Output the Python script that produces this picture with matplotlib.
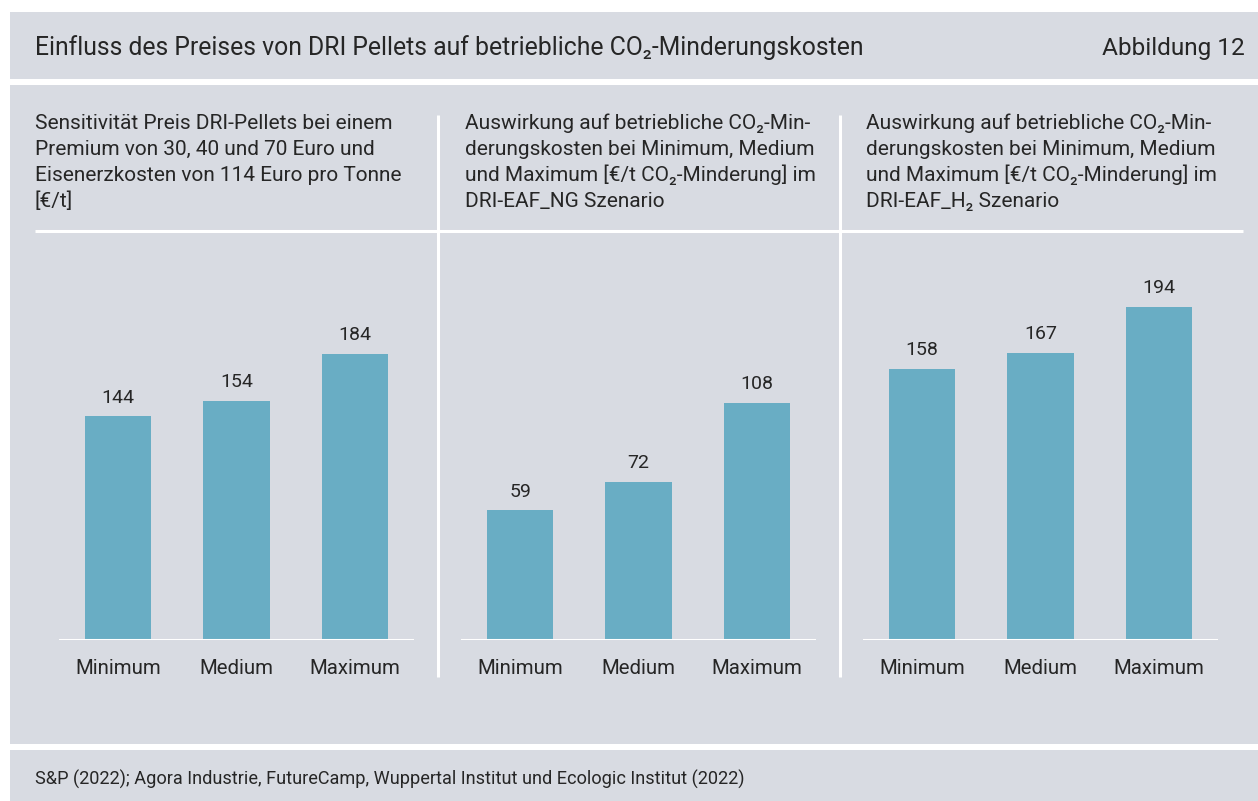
import matplotlib.pyplot as plt
from matplotlib.patches import Rectangle

plt.rcParams['font.family'] = ['Roboto', 'DejaVu Sans']

# --- Daten ---
categories = ["Minimum", "Medium", "Maximum"]
pellet_price = [144, 154, 184]          # €/t DRI-Pellets
cost_ng = [59, 72, 108]                 # €/t CO2-Minderung, DRI-EAF_NG
cost_h2 = [158, 167, 194]               # €/t CO2-Minderung, DRI-EAF_H2

title = "Einfluss des Preises von DRI Pellets auf betriebliche CO\u2082-Minderungskosten"
fig_label = "Abbildung 12"
subtitles = [
    ["Sensitivität Preis DRI-Pellets bei einem",
     "Premium von 30, 40 und 70 Euro und",
     "Eisenerzkosten von 114 Euro pro Tonne",
     "[€/t]"],
    ["Auswirkung auf betriebliche CO\u2082-Min-",
     "derungskosten bei Minimum, Medium",
     "und Maximum [€/t CO\u2082-Minderung] im",
     "DRI-EAF_NG Szenario"],
    ["Auswirkung auf betriebliche CO\u2082-Min-",
     "derungskosten bei Minimum, Medium",
     "und Maximum [€/t CO\u2082-Minderung] im",
     "DRI-EAF_H\u2082 Szenario"],
]
source = ("S&P (2022); Agora Industrie, FutureCamp, Wuppertal Institut und "
          "Ecologic Institut (2022)")

# --- Stil ---
BG = "#d8dbe2"
BAR = "#69adc4"
TXT = "#262626"
W, H = 1258, 801

fig = plt.figure(figsize=(W / 100, H / 100), dpi=100, facecolor="white")

# Hintergrund in Pixelkoordinaten
bg = fig.add_axes([0, 0, 1, 1], zorder=0)
bg.set_xlim(0, W)
bg.set_ylim(H, 0)
bg.axis("off")
bg.add_patch(Rectangle((10, 12), W - 10, H - 12, color=BG, lw=0))
bg.add_patch(Rectangle((10, 79), W - 10, 6, color="white", lw=0))
bg.add_patch(Rectangle((10, 744), W - 10, 6, color="white", lw=0))
bg.plot([35, 1243], [231, 231], color="white", lw=2.2, solid_capstyle="butt")
for xv in (437.5, 839.5):
    bg.plot([xv, xv], [115, 677], color="white", lw=2.2, solid_capstyle="butt")

bg.text(35, 55, title, fontsize=17.8, color=TXT, va="baseline")
bg.text(1245, 55, fig_label, fontsize=17.6, color=TXT, va="baseline", ha="right")
bg.text(35, 785, source, fontsize=13.1, color=TXT, va="baseline")

sub_x = [35, 465, 866]
for x0, lines in zip(sub_x, subtitles):
    for i, line in enumerate(lines):
        bg.text(x0, 129 + 26 * i, line, fontsize=15.0, color=TXT, va="baseline")

# --- Balkendiagramme ---
panels = [
    (59, pellet_price, 257.6),
    (461, cost_ng, 182.2),
    (863, cost_h2, 233.0),
]
bottom_px, top_px = 640, 240
for left_px, vals, ymax in panels:
    ax = fig.add_axes([left_px / W, (H - bottom_px) / H, 355 / W,
                       (bottom_px - top_px) / H], zorder=1)
    ax.patch.set_alpha(0)
    x = range(len(categories))
    bars = ax.bar(x, vals, width=0.56, color=BAR, zorder=3)
    ax.axhline(0, color="white", lw=2.2, zorder=4)
    ax.set_xlim(-0.5, 2.5)
    ax.set_ylim(0, ymax)
    for b, v in zip(bars, vals):
        ax.annotate(str(v), (b.get_x() + b.get_width() / 2, v),
                    xytext=(0, 10), textcoords="offset points",
                    ha="center", va="baseline", fontsize=14, color=TXT)
    ax.set_xticks(list(x))
    ax.set_xticklabels(categories, fontsize=14.7, color=TXT)
    ax.tick_params(axis="x", length=0, pad=14)
    ax.set_yticks([])
    for s in ax.spines.values():
        s.set_visible(False)

fig.savefig("out.png", dpi=100, facecolor="white")
